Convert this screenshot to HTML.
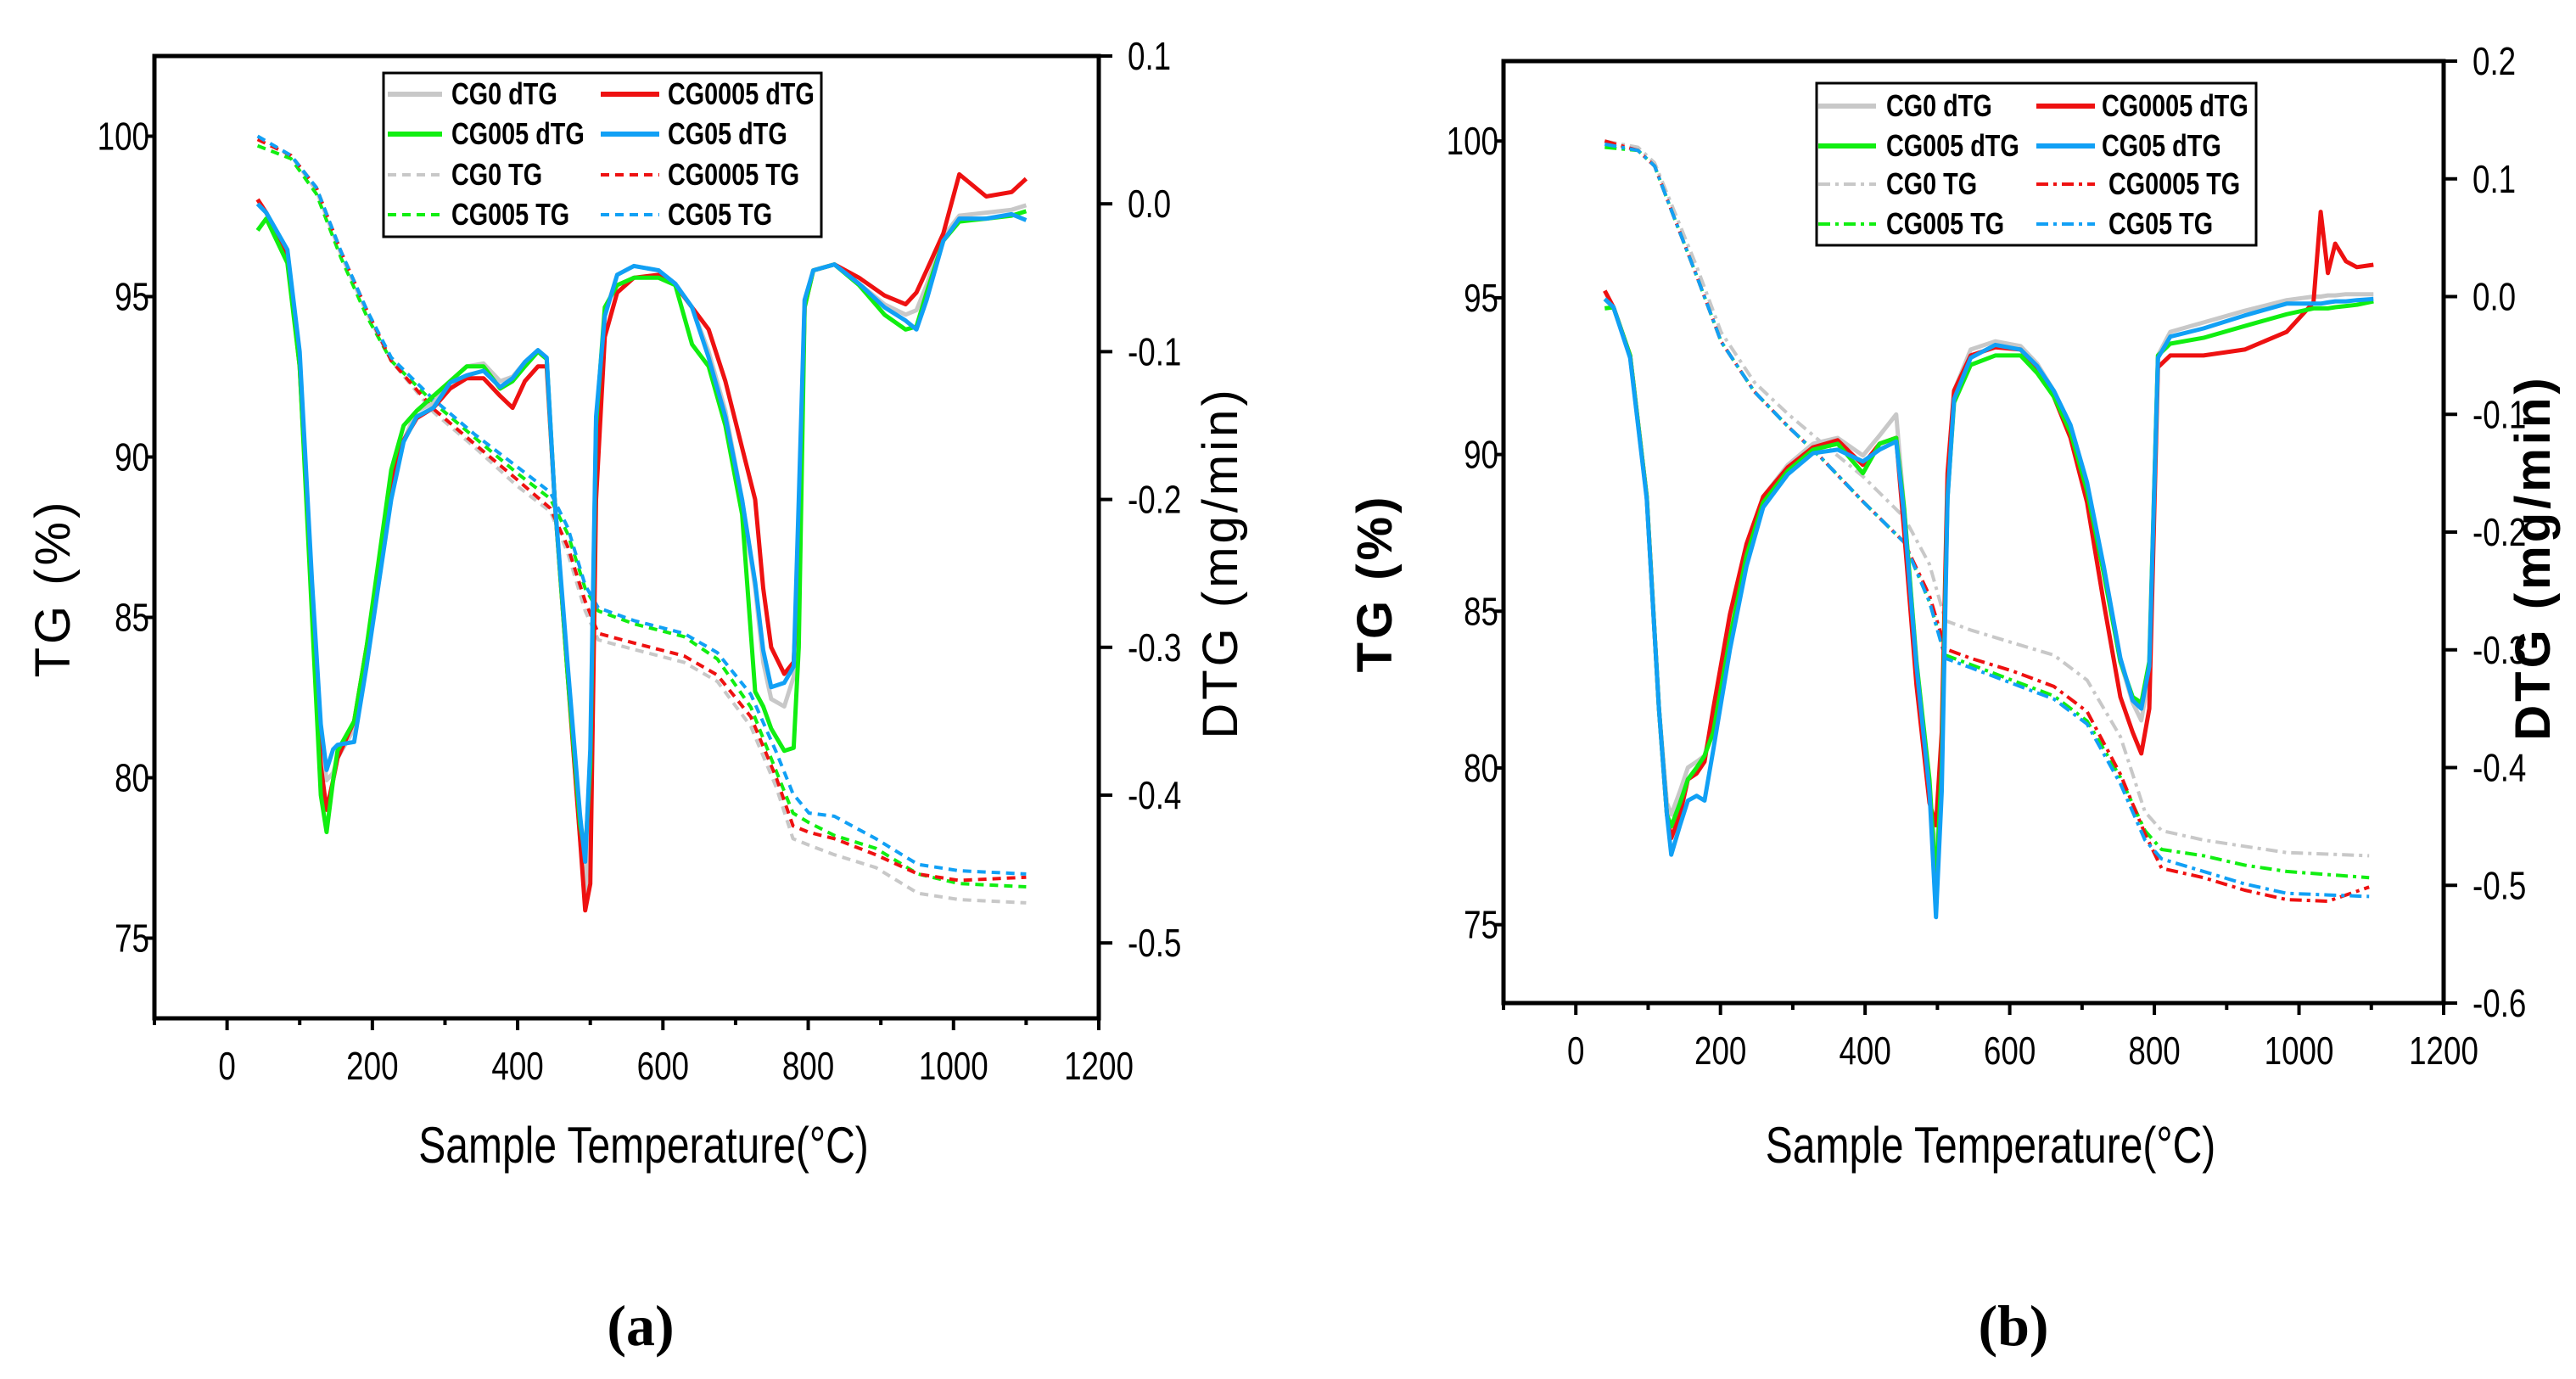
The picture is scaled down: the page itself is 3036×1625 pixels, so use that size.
<!DOCTYPE html>
<html><head><meta charset="utf-8"><style>
html,body{margin:0;padding:0;background:#fff;}
svg{display:block;}
text{font-family:"Liberation Sans",sans-serif;}
</style></head><body>
<svg id="fig" width="3036" height="1625" viewBox="0 0 3036 1625" xmlns="http://www.w3.org/2000/svg">
<g id="pa"></g>
<g id="pb"></g>
</svg>
<script>
// ---------- Panel (a) data ----------
const aT = [42,54,83,100,117,129,137,146,152,175,192,209,226,243,261,284,307,330,353,376,393,410,428,440,451,469,486,493,500,508,520,537,560,594,617,640,663,686,709,727,738,749,767,780,787,795,807,836,870,905,934,949,963,986,1008,1045,1080,1100];
const aBlueD = [0,-0.006,-0.031,-0.1,-0.256,-0.352,-0.383,-0.369,-0.366,-0.364,-0.313,-0.256,-0.2,-0.161,-0.144,-0.138,-0.121,-0.116,-0.113,-0.124,-0.118,-0.107,-0.099,-0.104,-0.2,-0.313,-0.414,-0.445,-0.369,-0.144,-0.076,-0.048,-0.042,-0.045,-0.054,-0.07,-0.104,-0.144,-0.2,-0.256,-0.302,-0.327,-0.324,-0.313,-0.2,-0.065,-0.045,-0.041,-0.054,-0.07,-0.079,-0.085,-0.065,-0.025,-0.01,-0.01,-0.007,-0.011];
const aRedD = [0.003,-0.006,-0.035,-0.11,-0.27,-0.38,-0.41,-0.39,-0.375,-0.35,-0.3,-0.25,-0.19,-0.16,-0.145,-0.138,-0.125,-0.118,-0.118,-0.13,-0.138,-0.12,-0.11,-0.11,-0.2,-0.32,-0.43,-0.478,-0.46,-0.2,-0.09,-0.06,-0.05,-0.048,-0.055,-0.07,-0.085,-0.12,-0.165,-0.2,-0.26,-0.3,-0.318,-0.31,-0.24,-0.07,-0.045,-0.041,-0.05,-0.062,-0.068,-0.06,-0.045,-0.02,0.02,0.005,0.008,0.017];
const aGreenD = [-0.018,-0.01,-0.04,-0.11,-0.28,-0.4,-0.425,-0.39,-0.37,-0.35,-0.3,-0.24,-0.18,-0.15,-0.14,-0.13,-0.12,-0.11,-0.11,-0.125,-0.12,-0.11,-0.1,-0.105,-0.2,-0.32,-0.42,-0.44,-0.38,-0.15,-0.07,-0.055,-0.05,-0.05,-0.055,-0.095,-0.11,-0.15,-0.21,-0.33,-0.34,-0.355,-0.37,-0.368,-0.3,-0.07,-0.045,-0.041,-0.055,-0.075,-0.085,-0.083,-0.06,-0.025,-0.012,-0.01,-0.008,-0.005];
const aGrayD = [0,-0.006,-0.032,-0.105,-0.26,-0.36,-0.39,-0.385,-0.375,-0.355,-0.31,-0.25,-0.19,-0.16,-0.14,-0.135,-0.12,-0.11,-0.108,-0.12,-0.117,-0.107,-0.099,-0.104,-0.2,-0.32,-0.43,-0.47,-0.4,-0.15,-0.075,-0.048,-0.042,-0.045,-0.054,-0.07,-0.1,-0.14,-0.2,-0.26,-0.31,-0.335,-0.34,-0.32,-0.22,-0.065,-0.045,-0.041,-0.054,-0.068,-0.075,-0.072,-0.055,-0.022,-0.008,-0.006,-0.004,-0.001];
const aTGT = [42,88,123,157,192,226,284,341,399,445,469,493,511,560,629,675,721,756,779,801,836,893,951,1008,1100];
const aBlueTG = [100,99.4,98.4,96.4,94.6,93.1,91.8,90.7,89.7,88.9,87.8,86.0,85.3,84.9,84.5,83.9,82.6,80.8,79.5,78.9,78.8,78.1,77.3,77.1,77.0];
const aGreenTG = [99.7,99.3,98.2,96.2,94.4,93.0,91.7,90.6,89.5,88.7,87.6,85.9,85.2,84.8,84.4,83.7,82.2,80.2,78.9,78.6,78.2,77.8,77.0,76.7,76.6];
const aRedTG = [99.9,99.4,98.4,96.4,94.6,93.0,91.5,90.4,89.3,88.4,87.2,85.5,84.5,84.2,83.8,83.2,81.9,80.0,78.5,78.3,78.1,77.6,77.0,76.8,76.9];
const aGrayTG = [100,99.4,98.3,96.3,94.5,93.0,91.4,90.3,89.1,88.3,87.0,85.2,84.3,84.0,83.6,83.0,81.6,79.7,78.1,77.9,77.6,77.2,76.4,76.2,76.1];

// ---------- Panel (b) data ----------
const bT = [40,52,75,98,115,126,132,144,155,167,178,190,213,236,259,293,328,362,397,420,443,454,471,489,498,506,514,523,546,580,615,638,661,684,707,730,753,770,782,793,805,822,868,925,983,1020,1030,1040,1050,1065,1080,1103];
const bBlueD = [-0.002,-0.009,-0.052,-0.172,-0.35,-0.44,-0.474,-0.449,-0.428,-0.424,-0.428,-0.385,-0.3,-0.229,-0.179,-0.151,-0.133,-0.13,-0.14,-0.13,-0.123,-0.186,-0.314,-0.42,-0.527,-0.42,-0.172,-0.087,-0.052,-0.041,-0.045,-0.059,-0.08,-0.109,-0.158,-0.229,-0.307,-0.343,-0.35,-0.314,-0.052,-0.034,-0.027,-0.016,-0.006,-0.006,-0.006,-0.005,-0.004,-0.004,-0.003,-0.002];
const bGreenD = [-0.01,-0.009,-0.05,-0.17,-0.35,-0.44,-0.45,-0.43,-0.41,-0.4,-0.39,-0.37,-0.29,-0.22,-0.175,-0.148,-0.13,-0.125,-0.15,-0.125,-0.12,-0.18,-0.31,-0.41,-0.5,-0.4,-0.17,-0.09,-0.058,-0.05,-0.05,-0.065,-0.085,-0.115,-0.165,-0.235,-0.31,-0.34,-0.345,-0.31,-0.05,-0.04,-0.035,-0.025,-0.015,-0.01,-0.01,-0.01,-0.009,-0.008,-0.007,-0.004];
const bRedD = [0.005,-0.009,-0.05,-0.17,-0.35,-0.44,-0.46,-0.44,-0.41,-0.405,-0.395,-0.35,-0.27,-0.21,-0.17,-0.145,-0.128,-0.122,-0.143,-0.125,-0.12,-0.2,-0.33,-0.43,-0.449,-0.37,-0.15,-0.08,-0.05,-0.043,-0.045,-0.06,-0.085,-0.12,-0.175,-0.26,-0.34,-0.37,-0.388,-0.35,-0.06,-0.05,-0.05,-0.045,-0.03,-0.005,0.072,0.02,0.045,0.03,0.025,0.027];
const bGrayD = [-0.002,-0.009,-0.05,-0.17,-0.35,-0.43,-0.44,-0.42,-0.4,-0.395,-0.39,-0.36,-0.28,-0.215,-0.17,-0.143,-0.125,-0.12,-0.135,-0.118,-0.1,-0.18,-0.31,-0.42,-0.48,-0.4,-0.16,-0.08,-0.045,-0.038,-0.042,-0.057,-0.08,-0.11,-0.16,-0.23,-0.31,-0.345,-0.36,-0.32,-0.05,-0.03,-0.022,-0.012,-0.003,0,0,0.001,0.001,0.002,0.002,0.002];
const bTGT = [40,86,109,132,167,201,247,293,339,397,454,489,511,546,603,661,707,753,787,810,868,925,983,1040,1097];
const bBlueTG = [99.9,99.7,99.2,97.8,95.7,93.6,92.0,90.9,89.9,88.5,87.2,85.3,83.5,83.2,82.7,82.2,81.4,79.5,77.7,77.1,76.7,76.3,76.0,75.95,75.9];
const bGreenTG = [99.8,99.7,99.2,97.8,95.7,93.6,92.0,90.9,89.9,88.5,87.2,85.3,83.6,83.3,82.8,82.3,81.5,79.7,78.0,77.4,77.2,76.9,76.7,76.6,76.5];
const bRedTG = [100,99.7,99.2,97.8,95.7,93.6,92.0,90.9,89.9,88.5,87.2,85.5,83.8,83.5,83.1,82.6,81.8,79.8,77.9,76.8,76.5,76.1,75.8,75.75,76.2];
const bGrayTG = [100,99.8,99.3,98.0,96.0,93.9,92.3,91.3,90.4,89.3,88.0,86.5,84.7,84.4,84.0,83.6,82.8,81.0,78.6,78.0,77.7,77.5,77.3,77.25,77.2];

const xTicks = [0,200,400,600,800,1000,1200];
const aTGTicks = [75,80,85,90,95,100];
const aDTGTicks = [-0.5,-0.4,-0.3,-0.2,-0.1,0.0,0.1];
const bTGTicks = [75,80,85,90,95,100];
const bDTGTicks = [-0.6,-0.5,-0.4,-0.3,-0.2,-0.1,0.0,0.1,0.2];

const NS = "http://www.w3.org/2000/svg";
const K = 0.8; // horizontal condensing
function mk(parent, tag, attrs, txt){
  const e = document.createElementNS(NS, tag);
  for (const k in attrs) e.setAttribute(k, attrs[k]);
  if (txt !== undefined) e.textContent = txt;
  parent.appendChild(e);
  return e;
}
function ctext(parent, x, y, s, attrs, rot){
  const a = Object.assign({x:0, y:0}, attrs);
  a.transform = `translate(${x},${y})` + (rot ? ` rotate(${rot})` : "") + ` scale(${K},1)`;
  return mk(parent, "text", a, s);
}
const COL = {gray:"#c8c8c8", red:"#ee1111", green:"#11ee11", blue:"#11a0f5"};

function panel(g, cfg){
  const {L,R,T,B,tgMin,tgMax,dMin,dMax} = cfg;
  const sx = v => L + (v + 100) / 1300 * (R - L);
  const sy = v => B - (v - tgMin) / (tgMax - tgMin) * (B - T);
  const sd = v => B - (v - dMin) / (dMax - dMin) * (B - T);
  function series(xs, ys, scale, color, dash, name, w){
    const pts = xs.map((x,i) => sx(x).toFixed(1) + "," + scale(ys[i]).toFixed(1)).join(" ");
    const p = mk(g, "polyline", {points: pts, fill: "none", stroke: color, "stroke-width": w, "stroke-linejoin": "round", "stroke-dasharray": dash});
    
    
  }
  const td = cfg.tgDash;
  series(cfg.tgT, cfg.grayTG, sy, COL.gray, td, "cg0-tg-line", 4);
  series(cfg.tgT, cfg.greenTG, sy, COL.green, td, "cg005-tg-line", 4);
  series(cfg.tgT, cfg.redTG, sy, COL.red, td, "cg0005-tg-line", 4);
  series(cfg.tgT, cfg.blueTG, sy, COL.blue, td, "cg05-tg-line", 4);
  series(cfg.dT, cfg.grayD, sd, COL.gray, "none", "cg0-dtg-line", 5);
  series(cfg.dT, cfg.redD, sd, COL.red, "none", "cg0005-dtg-line", 5);
  series(cfg.dT, cfg.greenD, sd, COL.green, "none", "cg005-dtg-line", 5);
  series(cfg.dT, cfg.blueD, sd, COL.blue, "none", "cg05-dtg-line", 5);
  const fr = mk(g, "rect", {x:L, y:T, width:R-L, height:B-T, fill:"none", stroke:"#000", "stroke-width":5});
  
  
  for (let v = -100; v <= 1200; v += 100){
    const major = v % 200 === 0;
    mk(g, "line", {x1:sx(v), x2:sx(v), y1:B, y2:B + (major ? 14 : 8), stroke:"#000", "stroke-width":4});
  }
  xTicks.forEach(v => {
    const t = ctext(g, sx(v), B + 72, String(v), {"font-size":46, "text-anchor":"middle"});
    
    
  });
  cfg.tgTicks.forEach(v => {
    mk(g, "line", {x1:L, x2:L-10, y1:sy(v), y2:sy(v), stroke:"#000", "stroke-width":4});
    const t = ctext(g, L-6, sy(v)+16, String(v), {"font-size":46, "text-anchor":"end"});
    
    
  });
  cfg.dTicks.forEach(v => {
    mk(g, "line", {x1:R, x2:R+16, y1:sd(v), y2:sd(v), stroke:"#000", "stroke-width":4});
    const t = ctext(g, R+34, sd(v)+16, v.toFixed(1), {"font-size":46, "text-anchor":"start"});
    
    
  });
  const xt = ctext(g, (L+R)/2+20, 1370, "Sample Temperature(°C)", {"font-size":60, "text-anchor":"middle"});
  
  
  const yt = mk(g, "text", {x:0, y:0, "font-size":58, "text-anchor":"middle", "font-weight":cfg.bold?"bold":"normal", "letter-spacing":4, transform:`translate(${cfg.tgLabelX},${(T+B)/2+60}) rotate(-90)`}, "TG (%)");
  
  
  const dt = mk(g, "text", {x:0, y:0, "font-size":58, "text-anchor":"middle", "font-weight":cfg.bold?"bold":"normal", "letter-spacing":4, transform:`translate(${cfg.dLabelX},${(T+B)/2+30}) rotate(-90)`}, "DTG (mg/min)");
  
  
  const pl = mk(g, "text", {x:cfg.labX, y:1585, "font-size":68, "font-weight":"bold", "text-anchor":"middle", style:'font-family:"Liberation Serif",serif'}, cfg.lab);
  
  
  const lg = mk(g, "g", {});
  
  
  const Lg = cfg.leg;
  mk(lg, "rect", {x:Lg.x, y:Lg.y, width:Lg.w, height:Lg.h, fill:"#fff", stroke:"#000", "stroke-width":3});
  const entries = [
    ["CG0 dTG", COL.gray, "none", 0, 0], ["CG0005 dTG", COL.red, "none", 1, 0],
    ["CG005 dTG", COL.green, "none", 0, 1], ["CG05 dTG", COL.blue, "none", 1, 1],
    ["CG0 TG", COL.gray, td, 0, 2], ["CG0005 TG", COL.red, td, 1, 2],
    ["CG005 TG", COL.green, td, 0, 3], ["CG05 TG", COL.blue, td, 1, 3]];
  entries.forEach(([name, c, d, col, row]) => {
    const y = Lg.rows[row];
    const lx = Lg.lineX[col];
    const e = mk(lg, "g", {});
    
    
    mk(e, "line", {x1:lx[0], x2:lx[1], y1:y, y2:y, stroke:c, "stroke-width":d==="none"?6:4, "stroke-dasharray":d});
    ctext(e, (d!=="none" && col===1 && cfg.bold) ? Lg.textX[col]+8 : Lg.textX[col], y+12, name, {"font-size":36, "font-weight":"bold"});
  });
}

panel(document.getElementById("pa"), {
  L:182, R:1295, T:66, B:1200, tgMin:72.5, tgMax:102.5, dMin:-0.551, dMax:0.1,
  dT:aT, blueD:aBlueD, redD:aRedD, greenD:aGreenD, grayD:aGrayD,
  tgT:aTGT, blueTG:aBlueTG, greenTG:aGreenTG, redTG:aRedTG, grayTG:aGrayTG,
  tgTicks:aTGTicks, dTicks:aDTGTicks, tgDash:"10,7", bold:false,
  tgLabelX:82, dLabelX:1458, lab:"(a)", labX:755,
  leg:{x:452, y:86, w:516, h:193, rows:[111,158,206,253], lineX:[[457,521],[708,777]], textX:[532,787]}
});
panel(document.getElementById("pb"), {
  L:1772, R:2880, T:72, B:1182, tgMin:72.5, tgMax:102.55, dMin:-0.6, dMax:0.2,
  dT:bT, blueD:bBlueD, redD:bRedD, greenD:bGreenD, grayD:bGrayD,
  tgT:bTGT, blueTG:bBlueTG, greenTG:bGreenTG, redTG:bRedTG, grayTG:bGrayTG,
  tgTicks:bTGTicks, dTicks:bDTGTicks, tgDash:"14,6,4,6", bold:true,
  tgLabelX:1640, dLabelX:3005, lab:"(b)", labX:2373,
  leg:{x:2141, y:98, w:518, h:191, rows:[125,172,217,264], lineX:[[2143,2211],[2400,2469]], textX:[2223,2477]}
});
</script>
</body></html>
